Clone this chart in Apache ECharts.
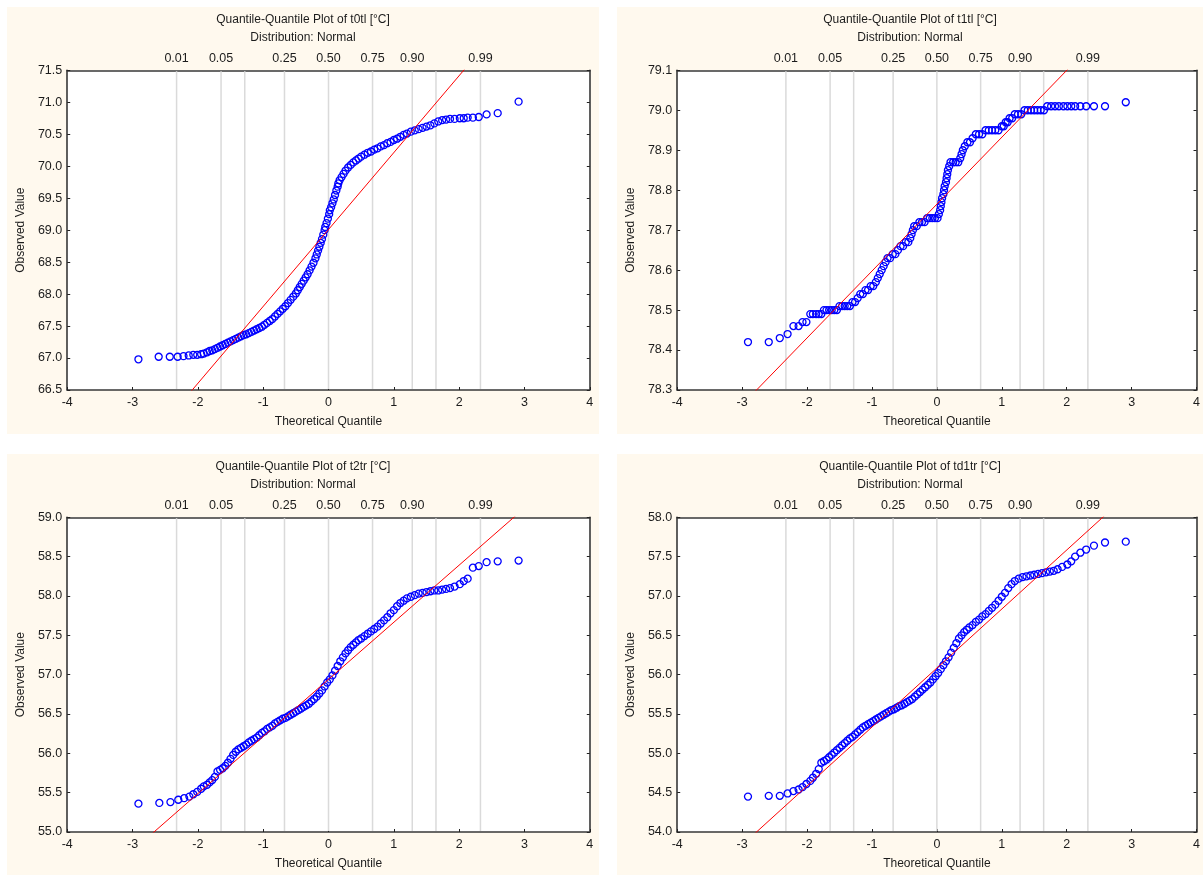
<!DOCTYPE html>
<html>
<head>
<meta charset="utf-8">
<script src="https://cdn.jsdelivr.net/npm/echarts/dist/echarts.min.js"></script>
<style>
  html, body { margin: 0; padding: 0; background: #ffffff; width: 1203px; height: 875px; overflow: hidden; }
  .panel { position: absolute; background: #fff9ee; }
</style>
</head>
<body>
<div id="p1" class="panel" style="left:7px;top:7px;width:592px;height:427px;"></div>
<div id="p2" class="panel" style="left:617px;top:7px;width:586px;height:427px;"></div>
<div id="p3" class="panel" style="left:7px;top:454px;width:592px;height:421px;"></div>
<div id="p4" class="panel" style="left:617px;top:454px;width:586px;height:421px;"></div>
<script>
// ---------------- data ----------------
const xTicks = [-4, -3, -2, -1, 0, 1, 2, 3, 4];
const probLabels = ['0.01', '0.05', '0.10', '0.25', '0.50', '0.75', '0.90', '0.95', '0.99'];
const probZ = [-2.326, -1.645, -1.282, -0.674, 0, 0.674, 1.282, 1.645, 2.326];
const probShown = [true, true, false, true, true, true, true, false, true];

const titles = [
  'Quantile-Quantile Plot of t0tl [°C]',
  'Quantile-Quantile Plot of t1tl [°C]',
  'Quantile-Quantile Plot of t2tr [°C]',
  'Quantile-Quantile Plot of td1tr [°C]'
];
const subtitle = 'Distribution: Normal';

const t0tlYTicks = [66.5, 67.0, 67.5, 68.0, 68.5, 69.0, 69.5, 70.0, 70.5, 71.0, 71.5];
const t1tlYTicks = [78.3, 78.4, 78.5, 78.6, 78.7, 78.8, 78.9, 79.0, 79.1];
const t2trYTicks = [55.0, 55.5, 56.0, 56.5, 57.0, 57.5, 58.0, 58.5, 59.0];
const td1trYTicks = [54.0, 54.5, 55.0, 55.5, 56.0, 56.5, 57.0, 57.5, 58.0];

// fitted normal line: [mean, sd]
const t0tlFit = [69.01, 1.203];
const t1tlFit = [78.765, 0.1674];
const t2trFit = [56.94, 0.726];
const td1trFit = [56.084, 0.75];

// [theoretical quantile, observed value]
const t0tlPoints = [[-2.91,66.98],[-2.60,67.02],[-2.43,67.02],[-2.31,67.02],[-2.22,67.03],[-2.14,67.04],[-2.07,67.05],[-2.01,67.05],[-1.95,67.06],[-1.91,67.07],[-1.86,67.09],[-1.82,67.11],[-1.78,67.12],[-1.74,67.14],[-1.70,67.16],[-1.66,67.18],[-1.62,67.20],[-1.58,67.22],[-1.54,67.24],[-1.50,67.26],[-1.46,67.28],[-1.42,67.30],[-1.38,67.32],[-1.34,67.34],[-1.30,67.36],[-1.26,67.37],[-1.22,67.39],[-1.18,67.41],[-1.14,67.43],[-1.10,67.45],[-1.06,67.47],[-1.02,67.49],[-0.98,67.52],[-0.94,67.55],[-0.90,67.58],[-0.86,67.61],[-0.82,67.65],[-0.78,67.69],[-0.74,67.73],[-0.70,67.77],[-0.66,67.81],[-0.62,67.86],[-0.58,67.91],[-0.54,67.96],[-0.50,68.01],[-0.47,68.06],[-0.44,68.11],[-0.41,68.16],[-0.38,68.21],[-0.35,68.26],[-0.32,68.31],[-0.29,68.37],[-0.26,68.43],[-0.23,68.49],[-0.20,68.56],[-0.18,68.62],[-0.16,68.68],[-0.14,68.74],[-0.12,68.80],[-0.10,68.86],[-0.08,68.93],[-0.06,69.00],[-0.05,69.05],[-0.03,69.11],[-0.01,69.18],[0.01,69.25],[0.02,69.31],[0.04,69.36],[0.06,69.42],[0.08,69.48],[0.10,69.55],[0.12,69.62],[0.14,69.68],[0.15,69.73],[0.17,69.78],[0.20,69.83],[0.23,69.88],[0.26,69.93],[0.30,69.98],[0.34,70.02],[0.38,70.06],[0.42,70.09],[0.46,70.12],[0.50,70.15],[0.55,70.18],[0.60,70.21],[0.65,70.23],[0.70,70.26],[0.75,70.28],[0.80,70.31],[0.85,70.33],[0.90,70.36],[0.95,70.38],[1.00,70.41],[1.05,70.43],[1.10,70.46],[1.15,70.49],[1.20,70.51],[1.26,70.54],[1.32,70.56],[1.38,70.58],[1.44,70.60],[1.50,70.62],[1.56,70.64],[1.62,70.67],[1.68,70.70],[1.74,70.72],[1.80,70.73],[1.86,70.74],[1.93,70.74],[2.01,70.75],[2.07,70.75],[2.13,70.76],[2.21,70.76],[2.30,70.77],[2.42,70.81],[2.59,70.83],[2.91,71.01]];

const t1tlPoints = [[-2.91,78.42],[-2.59,78.42],[-2.42,78.43],[-2.30,78.44],[-2.21,78.46],[-2.13,78.46],[-2.07,78.47],[-2.01,78.47],[-1.95,78.49],[-1.91,78.49],[-1.86,78.49],[-1.82,78.49],[-1.78,78.49],[-1.74,78.50],[-1.70,78.50],[-1.66,78.50],[-1.62,78.50],[-1.58,78.50],[-1.54,78.50],[-1.50,78.51],[-1.46,78.51],[-1.42,78.51],[-1.38,78.51],[-1.34,78.51],[-1.30,78.52],[-1.26,78.52],[-1.22,78.53],[-1.18,78.54],[-1.14,78.54],[-1.10,78.55],[-1.06,78.55],[-1.02,78.56],[-0.98,78.56],[-0.94,78.57],[-0.91,78.58],[-0.88,78.59],[-0.85,78.60],[-0.82,78.61],[-0.79,78.62],[-0.76,78.63],[-0.72,78.63],[-0.68,78.64],[-0.64,78.64],[-0.60,78.65],[-0.56,78.66],[-0.52,78.66],[-0.48,78.67],[-0.44,78.67],[-0.41,78.68],[-0.39,78.69],[-0.37,78.70],[-0.35,78.71],[-0.31,78.71],[-0.27,78.72],[-0.23,78.72],[-0.19,78.72],[-0.15,78.73],[-0.11,78.73],[-0.07,78.73],[-0.03,78.73],[0.01,78.73],[0.03,78.74],[0.05,78.75],[0.06,78.76],[0.07,78.77],[0.08,78.78],[0.10,78.79],[0.11,78.80],[0.12,78.81],[0.14,78.82],[0.15,78.83],[0.16,78.84],[0.17,78.85],[0.19,78.86],[0.21,78.87],[0.25,78.87],[0.29,78.87],[0.33,78.87],[0.36,78.88],[0.38,78.89],[0.40,78.90],[0.43,78.91],[0.47,78.92],[0.51,78.92],[0.55,78.93],[0.60,78.94],[0.65,78.94],[0.70,78.94],[0.75,78.95],[0.80,78.95],[0.85,78.95],[0.90,78.95],[0.95,78.95],[1.00,78.96],[1.03,78.96],[1.06,78.97],[1.09,78.97],[1.12,78.98],[1.16,78.98],[1.20,78.99],[1.25,78.99],[1.30,78.99],[1.35,79.00],[1.40,79.00],[1.45,79.00],[1.50,79.00],[1.55,79.00],[1.60,79.00],[1.65,79.00],[1.70,79.01],[1.76,79.01],[1.82,79.01],[1.88,79.01],[1.95,79.01],[2.01,79.01],[2.07,79.01],[2.13,79.01],[2.21,79.01],[2.30,79.01],[2.42,79.01],[2.59,79.01],[2.91,79.02]];

const t2trPoints = [[-2.91,55.36],[-2.59,55.37],[-2.42,55.38],[-2.30,55.41],[-2.21,55.43],[-2.13,55.45],[-2.07,55.48],[-2.01,55.51],[-1.95,55.55],[-1.91,55.58],[-1.86,55.60],[-1.82,55.63],[-1.78,55.66],[-1.74,55.70],[-1.70,55.77],[-1.66,55.79],[-1.62,55.81],[-1.58,55.84],[-1.54,55.88],[-1.50,55.93],[-1.46,55.98],[-1.42,56.02],[-1.38,56.05],[-1.34,56.07],[-1.30,56.09],[-1.26,56.11],[-1.22,56.14],[-1.18,56.16],[-1.14,56.18],[-1.10,56.20],[-1.06,56.23],[-1.02,56.26],[-0.98,56.28],[-0.94,56.31],[-0.90,56.33],[-0.86,56.35],[-0.82,56.38],[-0.78,56.40],[-0.74,56.42],[-0.70,56.44],[-0.66,56.45],[-0.62,56.47],[-0.58,56.49],[-0.54,56.51],[-0.50,56.53],[-0.46,56.55],[-0.42,56.57],[-0.38,56.59],[-0.34,56.61],[-0.30,56.63],[-0.26,56.66],[-0.22,56.69],[-0.18,56.72],[-0.14,56.76],[-0.10,56.80],[-0.06,56.85],[-0.02,56.90],[0.02,56.94],[0.06,56.99],[0.10,57.05],[0.14,57.11],[0.18,57.17],[0.22,57.22],[0.26,57.27],[0.30,57.31],[0.34,57.35],[0.38,57.38],[0.42,57.41],[0.46,57.44],[0.50,57.46],[0.55,57.49],[0.60,57.52],[0.65,57.55],[0.70,57.58],[0.75,57.61],[0.80,57.65],[0.85,57.69],[0.90,57.73],[0.95,57.78],[1.00,57.82],[1.05,57.87],[1.10,57.91],[1.15,57.94],[1.20,57.97],[1.26,57.99],[1.32,58.01],[1.38,58.03],[1.44,58.04],[1.50,58.05],[1.56,58.06],[1.62,58.07],[1.68,58.07],[1.74,58.08],[1.80,58.09],[1.86,58.10],[1.93,58.12],[2.01,58.15],[2.07,58.19],[2.13,58.22],[2.21,58.36],[2.30,58.38],[2.42,58.43],[2.59,58.44],[2.91,58.45]];

const td1trPoints = [[-2.91,54.45],[-2.59,54.46],[-2.42,54.46],[-2.30,54.49],[-2.21,54.52],[-2.13,54.54],[-2.07,54.57],[-2.01,54.61],[-1.95,54.65],[-1.91,54.69],[-1.86,54.74],[-1.82,54.80],[-1.78,54.88],[-1.74,54.90],[-1.70,54.92],[-1.66,54.95],[-1.62,54.98],[-1.58,55.01],[-1.54,55.04],[-1.50,55.07],[-1.46,55.10],[-1.42,55.13],[-1.38,55.16],[-1.34,55.19],[-1.30,55.21],[-1.26,55.24],[-1.22,55.27],[-1.18,55.30],[-1.14,55.33],[-1.10,55.35],[-1.06,55.37],[-1.02,55.39],[-0.98,55.41],[-0.94,55.43],[-0.90,55.45],[-0.86,55.47],[-0.82,55.49],[-0.78,55.51],[-0.74,55.53],[-0.70,55.55],[-0.66,55.56],[-0.62,55.58],[-0.58,55.60],[-0.54,55.61],[-0.50,55.63],[-0.46,55.65],[-0.42,55.67],[-0.38,55.69],[-0.34,55.72],[-0.30,55.75],[-0.26,55.78],[-0.22,55.81],[-0.18,55.84],[-0.14,55.87],[-0.10,55.90],[-0.06,55.94],[-0.02,55.98],[0.02,56.02],[0.06,56.07],[0.10,56.12],[0.14,56.17],[0.18,56.22],[0.22,56.28],[0.26,56.34],[0.30,56.40],[0.34,56.46],[0.38,56.50],[0.42,56.54],[0.46,56.57],[0.50,56.60],[0.55,56.63],[0.60,56.67],[0.65,56.70],[0.70,56.74],[0.75,56.77],[0.80,56.81],[0.85,56.85],[0.90,56.89],[0.95,56.94],[1.00,56.99],[1.05,57.04],[1.10,57.10],[1.15,57.15],[1.20,57.19],[1.26,57.22],[1.32,57.24],[1.38,57.25],[1.44,57.26],[1.50,57.27],[1.56,57.28],[1.62,57.29],[1.68,57.30],[1.74,57.31],[1.80,57.32],[1.86,57.34],[1.93,57.37],[2.01,57.40],[2.07,57.44],[2.13,57.50],[2.21,57.55],[2.30,57.59],[2.42,57.64],[2.59,57.68],[2.91,57.69]];

// ---------------- drawing ----------------
const FONT = 'Arial, "Liberation Sans", sans-serif';
const TXT = '#1c1c1c';
const FS_TITLE = 12;
const FS_TICK = 12.5;

function makeChart(elId, title, yTicks, points, fit) {
  const chart = echarts.init(document.getElementById(elId), null, { renderer: 'canvas' });
  const yMin = yTicks[0], yMax = yTicks[yTicks.length - 1];
  const yStep = +(yTicks[1] - yTicks[0]).toFixed(4);
  const xMin = xTicks[0], xMax = xTicks[xTicks.length - 1];
  const axisLineStyle = { color: '#383838', width: 1.6 };
  const lineData = [[xMin, fit[0] + fit[1] * xMin], [xMax, fit[0] + fit[1] * xMax]];
  chart.setOption({
    animation: false,
    backgroundColor: 'transparent',
    textStyle: { fontFamily: FONT },
    title: [
      { text: title, left: 'center', top: 7, padding: 0,
        textStyle: { fontSize: FS_TITLE, fontWeight: 'normal', color: TXT, fontFamily: FONT } },
      { text: subtitle, left: 'center', top: 25, padding: 0,
        textStyle: { fontSize: FS_TITLE, fontWeight: 'normal', color: TXT, fontFamily: FONT } }
    ],
    grid: { left: 58.3, top: 63.3, width: 524.5, height: 319.7, show: true, backgroundColor: '#ffffff', borderWidth: 0, containLabel: false },
    xAxis: [
      { type: 'value', position: 'bottom', min: xMin, max: xMax, interval: 1,
        axisLine: { show: true, onZero: false, lineStyle: axisLineStyle },
        axisTick: { show: true, inside: true, length: 3, lineStyle: { color: '#222', width: 1 } },
        axisLabel: { color: TXT, fontSize: FS_TICK, margin: 6, fontFamily: FONT },
        splitLine: { show: false },
        name: 'Theoretical Quantile', nameLocation: 'middle', nameGap: 26,
        nameTextStyle: { color: TXT, fontSize: FS_TITLE, fontFamily: FONT } },
      { type: 'value', position: 'top', min: xMin, max: xMax, interval: 1,
        axisLine: { show: true, onZero: false, lineStyle: axisLineStyle },
        axisTick: { show: false }, axisLabel: { show: false }, splitLine: { show: false } }
    ],
    yAxis: [
      { type: 'value', position: 'left', min: yMin, max: yMax, interval: yStep,
        axisLine: { show: true, onZero: false, lineStyle: axisLineStyle },
        axisTick: { show: true, inside: true, length: 3, lineStyle: { color: '#222', width: 1 } },
        axisLabel: { color: TXT, fontSize: FS_TICK, margin: 5, fontFamily: FONT,
          formatter: v => v.toFixed(1) },
        splitLine: { show: false },
        name: 'Observed Value', nameLocation: 'middle', nameGap: 39, nameRotate: 90,
        nameTextStyle: { color: TXT, fontSize: FS_TITLE, fontFamily: FONT } },
      { type: 'value', position: 'right', min: yMin, max: yMax, interval: yStep,
        axisLine: { show: true, onZero: false, lineStyle: axisLineStyle },
        axisTick: { show: true, inside: true, length: 3, lineStyle: { color: '#222', width: 1 } },
        axisLabel: { show: false }, splitLine: { show: false } }
    ],
    series: [
      { type: 'custom', xAxisIndex: 0, yAxisIndex: 0, z: 1, silent: true, clip: false,
        data: probZ.map(z => [z, yMin]),
        renderItem: function (params, api) {
          const i = params.dataIndex;
          const z = api.value(0);
          const top = api.coord([z, yMax]);
          const bot = api.coord([z, yMin]);
          const children = [{ type: 'line', shape: { x1: top[0], y1: top[1] + 1, x2: bot[0], y2: bot[1] - 1 },
            style: { stroke: '#dadada', lineWidth: 1.5 } }];
          if (probShown[i]) {
            children.push({ type: 'text', style: { text: probLabels[i], x: top[0], y: top[1] - 12,
              textAlign: 'center', textVerticalAlign: 'middle', fill: TXT, font: FS_TICK + 'px ' + FONT } });
          }
          return { type: 'group', children: children };
        } },
      { type: 'scatter', xAxisIndex: 0, yAxisIndex: 0, z: 2, data: points, symbol: 'circle', symbolSize: 7,
        itemStyle: { color: 'rgba(0,0,0,0)', borderColor: '#0000ff', borderWidth: 1.3, opacity: 1 },
        emphasis: { disabled: true } },
      { type: 'line', xAxisIndex: 0, yAxisIndex: 0, z: 3, data: lineData, symbol: 'none', clip: true,
        lineStyle: { color: '#ff0000', width: 1 }, emphasis: { disabled: true } }
    ]
  });
  return chart;
}

makeChart('p1', titles[0], t0tlYTicks, t0tlPoints, t0tlFit);
makeChart('p2', titles[1], t1tlYTicks, t1tlPoints, t1tlFit);
makeChart('p3', titles[2], t2trYTicks, t2trPoints, t2trFit);
makeChart('p4', titles[3], td1trYTicks, td1trPoints, td1trFit);
</script>
</body>
</html>
